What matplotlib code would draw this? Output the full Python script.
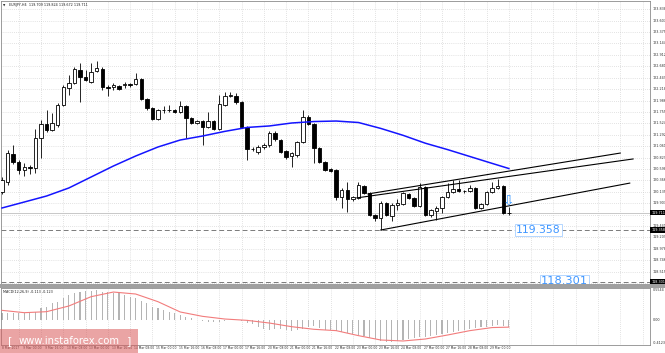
import matplotlib
matplotlib.use("Agg")
import matplotlib.pyplot as plt
import matplotlib.transforms as mtransforms
from matplotlib.patches import Rectangle

# ---------------- data ----------------
symbol_title = "EURJPY,H4  119.709 119.824 119.672 119.711"
macd_title = "MACD(12,26,9) -0.113 -0.123"

opens = [120.13, 120.33, 120.90, 120.74, 120.58, 120.64, 120.62, 121.23, 121.51, 121.39,
         121.49, 121.90, 122.24, 122.34, 122.61, 122.46, 122.36, 122.59, 122.63, 122.26,
         122.26, 122.28, 122.30, 122.32, 122.32, 122.42, 122.02, 121.83, 121.61, 121.79,
         121.80, 121.80, 121.75, 121.87, 121.63, 121.53, 121.57, 121.45, 121.57, 121.41,
         121.90, 122.08, 122.08, 121.95, 121.45, 121.00, 120.94, 121.04, 121.08, 121.33,
         121.19, 120.96, 120.86, 120.88, 121.14, 121.65, 121.51, 121.02, 120.74, 120.60,
         120.58, 120.03, 120.17, 119.99, 120.01, 120.25, 120.11, 119.66, 119.60, 119.90,
         119.64, 119.86, 119.88, 120.09, 120.01, 119.845, 120.23, 119.66, 119.74, 119.80,
         120.03, 120.13, 120.19, 120.15, 120.15, 120.21, 119.80, 119.88, 120.13, 120.21,
         120.25, 119.709]
highs = [120.43, 120.98, 121.08, 120.78, 120.72, 120.68, 121.41, 121.59, 121.79, 121.73,
         121.94, 122.30, 122.50, 122.67, 122.75, 122.61, 122.75, 122.79, 122.67, 122.30,
         122.34, 122.30, 122.36, 122.34, 122.545, 122.44, 122.04, 121.85, 121.81, 121.87,
         121.89, 121.81, 121.98, 121.90, 121.65, 121.59, 121.59, 121.75, 121.59, 122.10,
         122.16, 122.16, 122.14, 121.97, 121.47, 121.05, 121.08, 121.12, 121.37, 121.37,
         121.21, 120.98, 120.94, 121.16, 121.79, 121.69, 121.53, 121.04, 120.76, 120.62,
         120.60, 120.21, 120.33, 120.05, 120.33, 120.27, 120.13, 119.68, 119.95, 119.92,
         119.91, 119.98, 120.13, 120.11, 120.03, 120.31, 120.25, 119.78, 119.84, 120.05,
         120.31, 120.37, 120.37, 120.17, 120.27, 120.23, 119.90, 120.15, 120.33, 120.39,
         120.27, 119.824]
lows = [120.09, 120.27, 120.70, 120.49, 120.45, 120.49, 120.52, 120.82, 121.35, 121.37,
        121.45, 121.88, 122.10, 122.32, 121.96, 122.38, 122.34, 122.57, 122.20, 122.08,
        122.20, 122.20, 122.24, 122.26, 122.30, 122.00, 121.79, 121.59, 121.59, 121.73,
        121.75, 121.73, 121.73, 121.23, 121.51, 121.51, 121.08, 121.43, 121.39, 121.39,
        121.88, 122.06, 121.92, 121.43, 120.78, 120.96, 120.90, 121.00, 121.04, 121.17,
        120.92, 120.80, 120.64, 120.84, 121.12, 121.49, 120.72, 120.72, 120.56, 120.54,
        119.97, 119.80, 119.72, 119.95, 119.99, 120.09, 119.64, 119.54, 119.358, 119.64,
        119.54, 119.76, 119.86, 119.99, 119.82, 119.82, 119.64, 119.62, 119.56, 119.70,
        120.01, 120.11, 120.13, 120.11, 120.13, 119.78, 119.78, 119.86, 120.11, 120.19,
        119.68, 119.672]
closes = [120.37, 120.92, 120.74, 120.58, 120.64, 120.62, 121.23, 121.51, 121.39, 121.53,
          121.90, 122.26, 122.34, 122.63, 122.46, 122.40, 122.565, 122.65, 122.26, 122.25,
          122.30, 122.22, 122.32, 122.31, 122.42, 122.02, 121.83, 121.61, 121.79, 121.80,
          121.79, 121.75, 121.875, 121.63, 121.53, 121.57, 121.45, 121.57, 121.41, 121.92,
          122.08, 122.09, 121.95, 121.45, 121.00, 121.01, 121.04, 121.08, 121.33, 121.21,
          120.94, 120.84, 120.92, 121.14, 121.65, 121.51, 121.02, 120.74, 120.58, 120.56,
          120.03, 120.17, 119.99, 120.03, 120.27, 120.11, 119.66, 119.60, 119.905, 119.66,
          119.865, 119.905, 120.11, 120.01, 119.845, 120.23, 119.66, 119.76, 119.80, 120.03,
          120.13, 120.19, 120.15, 120.14, 120.21, 119.80, 119.88, 120.13, 120.21, 120.25,
          119.71, 119.711]

ma_bars = [0, 4, 8, 12, 16, 20, 24, 28, 32, 36, 40, 44, 48, 52, 56, 60, 64, 68, 72, 76,
           80, 84, 88, 91]
ma_values = [119.805, 119.926, 120.048, 120.211, 120.434, 120.657, 120.86, 121.043, 121.185,
             121.266, 121.36, 121.44, 121.47, 121.53, 121.56, 121.57, 121.54, 121.42, 121.28,
             121.12, 120.99, 120.85, 120.71, 120.606]

macd_hist = [0.115, 0.115, 0.126, 0.126, 0.115, 0.126, 0.143, 0.20, 0.229, 0.287,
             0.315, 0.372, 0.43, 0.458, 0.487, 0.498, 0.504, 0.516, 0.487, 0.487,
             0.47, 0.458, 0.43, 0.401, 0.372, 0.332, 0.287, 0.229, 0.20, 0.172,
             0.143, 0.115, 0.086, 0.057, 0.029, 0.0, -0.011, -0.029, -0.04, -0.029,
             -0.011, 0.0, 0.0, -0.011, -0.046, -0.069, -0.115, -0.16, -0.172, -0.16,
             -0.16, -0.172, -0.183, -0.172, -0.16, -0.115, -0.103, -0.143, -0.172, -0.172,
             -0.183, -0.2, -0.229, -0.24, -0.258, -0.275, -0.304, -0.332, -0.355, -0.372,
             -0.372, -0.361, -0.344, -0.332, -0.315, -0.287, -0.287, -0.275, -0.258, -0.24,
             -0.218, -0.2, -0.183, -0.172, -0.155, -0.143, -0.126, -0.115, -0.097, -0.086,
             -0.103, -0.113]
signal_bars = ma_bars
signal_values = [0.166, 0.126, 0.143, 0.241, 0.401, 0.481, 0.447, 0.315, 0.138, 0.063,
                 0.017, -0.006, -0.052, -0.115, -0.16, -0.183, -0.269, -0.344, -0.361, -0.327,
                 -0.258, -0.183, -0.13, -0.123]

support_1 = 119.358
support_2 = 118.301
bid_price = 119.711

# channel lines: (bar, price) endpoints
channel_lower = [(68, 119.358), (112.7, 120.31)]
channel_upper_a = [(65.7, 120.09), (111.0, 120.92)]
channel_upper_b = [(63.7, 120.01), (113.3, 120.80)]
signal_arrow = (91, 119.96)

price_ticks = [123.838, 123.607, 123.375, 123.144, 122.912, 122.681, 122.449, 122.218,
               121.986, 121.755, 121.524, 121.292, 121.061, 120.829, 120.598, 120.366,
               120.135, 119.903, 119.672, 119.441, 119.209, 118.978, 118.746, 118.515,
               118.283]
macd_axis_labels = ["0.5544", "0.00", "-0.4123"]
macd_axis_values = [0.52, 0.0, -0.40]

time_labels = ["8 Mar 2017", "9 Mar 00:00", "9 Mar 16:00", "10 Mar 08:00", "13 Mar 00:00",
               "13 Mar 16:00", "14 Mar 08:00", "15 Mar 00:00", "15 Mar 16:00", "16 Mar 08:00",
               "17 Mar 00:00", "17 Mar 16:00", "20 Mar 08:00", "21 Mar 00:00", "21 Mar 16:00",
               "22 Mar 08:00", "23 Mar 00:00", "23 Mar 16:00", "24 Mar 08:00", "27 Mar 00:00",
               "27 Mar 16:00", "28 Mar 08:00", "29 Mar 00:00"]
time_label_bars = [0] + list(range(3, 88, 4))

# ---------------- layout ----------------
W, H = 665, 353
fig = plt.figure(figsize=(W / 100, H / 100), dpi=100)
fig.patch.set_facecolor("white")

def fx(px):
    return px / W

def fy(py):
    return 1 - py / H

PX_LEFT, PX_RIGHT = 1, 650
MAIN_TOP, MAIN_BOT = 1, 284
MACD_TOP, MACD_BOT = 288, 345
BAR0, BARW = 2.0, 5.57

ax = fig.add_axes([fx(PX_LEFT), fy(MAIN_BOT), fx(PX_RIGHT - PX_LEFT), (MAIN_BOT - MAIN_TOP) / H])
ax2 = fig.add_axes([fx(PX_LEFT), fy(MACD_BOT), fx(PX_RIGHT - PX_LEFT), (MACD_BOT - MACD_TOP) / H])

xl = ((PX_LEFT - BAR0) / BARW, (PX_RIGHT - BAR0) / BARW)
PPX = 0.0203
P0 = support_1 + 230 * PPX
ax.set_xlim(*xl)
ax.set_ylim(P0 - PPX * MAIN_BOT, P0 - PPX * MAIN_TOP)
MPX = 0.0172
ax2.set_xlim(*xl)
ax2.set_ylim(-(MACD_BOT - 320) * MPX, (320 - MACD_TOP) * MPX)

grid_kw = dict(color="#c8c8c8", lw=0.5, linestyle=(0, (1, 2)), zorder=0)
vgrid = [b for b in range(3, 120, 4)]
for a in (ax, ax2):
    for b in vgrid:
        a.axvline(b, **grid_kw)
    a.set_xticks([])
    a.set_yticks([])
    for s in a.spines.values():
        s.set_color("#8c8c8c")
        s.set_linewidth(0.6)
for t in price_ticks:
    ax.axhline(t, **grid_kw)

# candles
n = len(opens)
for i in range(n):
    o, h, l, c = opens[i], highs[i], lows[i], closes[i]
    ax.vlines(i, l, h, color="black", lw=0.6, zorder=2)
    bot = min(o, c)
    hgt = max(abs(c - o), 0.004)
    ax.bar(i, hgt, bottom=bot, width=0.62, color="white" if c >= o else "black",
           edgecolor="black", linewidth=0.6, zorder=3)

ax.plot(ma_bars, ma_values, color="#1414ff", lw=1.1, zorder=4)

for line in (channel_lower, channel_upper_a, channel_upper_b):
    (x0, y0), (x1, y1) = line
    ax.plot([x0, x1], [y0, y1], color="black", lw=0.8, zorder=5)

ax.axhline(bid_price, color="#c8c8c8", lw=0.7, zorder=1)
for lvl in (support_1, support_2):
    ax.axhline(lvl, color="#7a7a7a", lw=0.7, dashes=(5, 3), zorder=1)

ax.text(signal_arrow[0], signal_arrow[1], "\u21e9", color="#3d9bff", fontsize=10,
        ha="center", va="center", zorder=6)

box_kw = dict(facecolor="white", edgecolor="#a8d0ff", linewidth=0.6, pad=0.8)
ax.text(92.3, support_1, "119.358", color="#3f96ff", fontsize=7.8, ha="left", va="center",
        bbox=box_kw, zorder=7)
ax.text(96.8, support_2 + 0.02, "118.301", color="#3f96ff", fontsize=8.2, ha="left", va="center",
        bbox=box_kw, zorder=7)

# right price axis labels
bt = mtransforms.blended_transform_factory(ax.transAxes, ax.transData)
specials = [bid_price, support_1, support_2]
for t in price_ticks:
    if min(abs(t - s) for s in specials) < 0.08:
        continue
    ax.text(1.004, t, f"{t:.3f}", transform=bt, fontsize=2.4, va="center", ha="left",
            color="#303030", clip_on=False)
for s in specials:
    ax.text(1.002, s, f"{s:.3f}", transform=bt, fontsize=2.4, va="center", ha="left",
            color="white", clip_on=False,
            bbox=dict(facecolor="black", edgecolor="none", pad=0.6))

ax.text(0.012, 0.992, symbol_title, transform=ax.transAxes, fontsize=2.4, va="top", ha="left",
        color="#202020")
ax.text(0.003, 0.992, "\u25bc", transform=ax.transAxes, fontsize=2.2, va="top", ha="left",
        color="#202020")

# MACD panel
ax2.bar(range(n), macd_hist, width=0.2, color="#b4b4b4", linewidth=0, zorder=2)
ax2.plot(signal_bars, signal_values, color="#f27c7c", lw=0.8, zorder=3)
ax2.text(0.003, 0.97, macd_title, transform=ax2.transAxes, fontsize=2.4, va="top", ha="left",
         color="#202020")
bt2 = mtransforms.blended_transform_factory(ax2.transAxes, ax2.transData)
for v, lab in zip(macd_axis_values, macd_axis_labels):
    ax2.text(1.004, v, lab, transform=bt2, fontsize=2.4, va="center", ha="left",
             color="#303030", clip_on=False)

bt3 = mtransforms.blended_transform_factory(ax2.transData, ax2.transAxes)
for b, lab in zip(time_label_bars, time_labels):
    off = 0.0 if b == 0 else 0.7
    ax2.text(b + off, -0.055, lab, transform=bt3, fontsize=2.2, va="center", ha="left",
             color="#303030", clip_on=False)

# separator between panels
fig.patches.append(Rectangle((fx(0), fy(MACD_TOP)), fx(PX_RIGHT + 15), (MACD_TOP - MAIN_BOT) / H,
                             transform=fig.transFigure, facecolor="#a0a0a0", edgecolor="none",
                             zorder=5))

# watermark
fig.patches.append(Rectangle((0, 0), fx(138), 24 / H, transform=fig.transFigure,
                             facecolor=(0.85, 0.35, 0.35), alpha=0.55, edgecolor="none", zorder=20))
fig.text(fx(10), fy(341), "[", color="white", fontsize=8, ha="center", va="center", zorder=21)
fig.text(fx(69), fy(341), "www.instaforex.com", color="white", fontsize=7.2, ha="center",
         va="center", zorder=21)
fig.text(fx(129), fy(341), "]", color="white", fontsize=8, ha="center", va="center", zorder=21)

fig.savefig("out.png", dpi=100)
